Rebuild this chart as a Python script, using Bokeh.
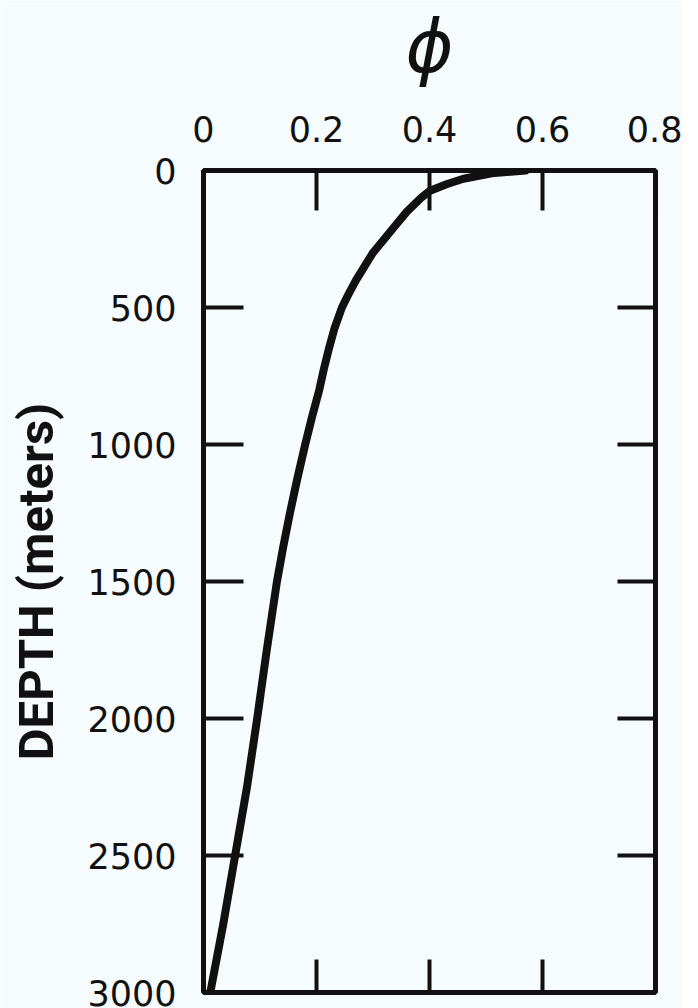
from bokeh.plotting import figure
from bokeh.models import Range1d, LinearAxis, FixedTicker, CustomJSTickFormatter
from bokeh.embed import file_html
from bokeh.resources import INLINE

# Data
depth_m = [0, 10, 30, 50, 75, 100, 150, 200, 250, 300, 350, 400, 450, 500,
           575, 650, 725, 800, 900, 1000, 1125, 1250, 1375, 1500, 1625,
           1750, 2000, 2250, 2500, 2750, 3000]
porosity = [0.57, 0.51, 0.46, 0.43, 0.40, 0.385, 0.36, 0.34, 0.32, 0.30,
            0.285, 0.27, 0.257, 0.245, 0.232, 0.222, 0.213, 0.205, 0.192,
            0.18, 0.166, 0.153, 0.141, 0.13, 0.121, 0.112, 0.095, 0.077,
            0.056, 0.035, 0.012]

x_ticks = [0, 0.2, 0.4, 0.6, 0.8]
x_inner_ticks = [0.2, 0.4, 0.6]
y_ticks = [0, 500, 1000, 1500, 2000, 2500, 3000]
y_inner_ticks = [500, 1000, 1500, 2000, 2500]

BG = "#f6fcfd"
INK = "#111111"
FONT = "DejaVu Sans"

p = figure(frame_width=452, frame_height=822,
           x_range=Range1d(0, 0.8), y_range=Range1d(3000, 0),
           x_axis_location=None, y_axis_location=None,
           output_backend="svg", toolbar_location=None,
           min_border_left=203, min_border_right=27,
           min_border_top=160, min_border_bottom=18)
p.background_fill_color = BG
p.border_fill_color = BG
p.outline_line_color = INK
p.outline_line_width = 5
p.xgrid.visible = False
p.ygrid.visible = False


def style(ax, tick_len):
    ax.axis_line_color = None
    ax.major_tick_in = tick_len
    ax.major_tick_out = 0
    ax.minor_tick_line_color = None
    ax.major_tick_line_color = INK
    ax.major_tick_line_width = 4
    ax.major_label_text_font = FONT
    ax.major_label_text_color = INK


top = LinearAxis(ticker=FixedTicker(ticks=x_ticks),
                 formatter=CustomJSTickFormatter(code="return tick === 0 ? '0' : tick.toFixed(1);"))
style(top, 40)
top.major_label_text_font_size = "35px"
top.major_label_standoff = 29
top.axis_label = "ϕ"
top.axis_label_text_font = FONT
top.axis_label_text_font_size = "73px"
top.axis_label_text_font_style = "italic"
top.axis_label_text_color = INK
top.axis_label_standoff = 24
p.add_layout(top, "above")

left = LinearAxis(ticker=FixedTicker(ticks=y_ticks))
style(left, 40)
left.major_label_text_font_size = "35px"
left.major_label_standoff = 27
left.axis_label = "DEPTH (meters)"
left.axis_label_text_font = "Roboto"
left.axis_label_text_font_size = "49px"
left.axis_label_text_font_style = "bold"
left.axis_label_text_color = INK
left.axis_label_standoff = 19
p.add_layout(left, "left")

blank = CustomJSTickFormatter(code="return '';")

right = LinearAxis(ticker=FixedTicker(ticks=y_inner_ticks), formatter=blank)
style(right, 38)
p.add_layout(right, "right")

bottom = LinearAxis(ticker=FixedTicker(ticks=x_inner_ticks), formatter=blank)
style(bottom, 33)
p.add_layout(bottom, "below")

p.line(porosity, depth_m, line_width=8, line_color=INK,
       line_cap="round", line_join="round")

open("out.html", "w").write(file_html(p, INLINE))
